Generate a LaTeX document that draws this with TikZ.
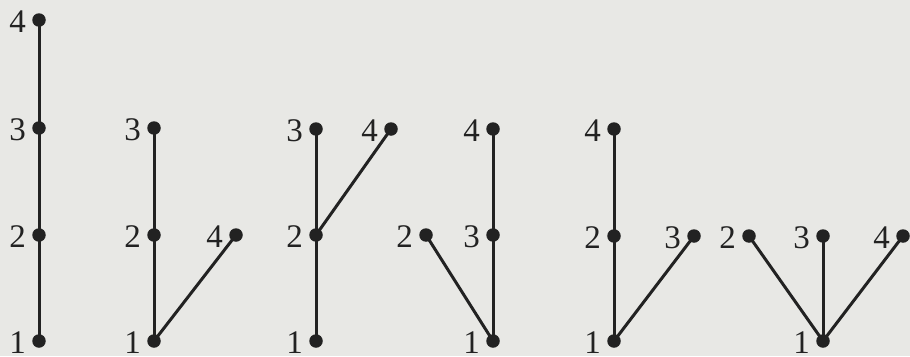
\documentclass[tikz,border=0pt]{standalone}
\usepackage{fontspec}
\setmainfont{Liberation Serif}
\definecolor{bgc}{RGB}{232,232,229}
\definecolor{ink}{RGB}{34,34,34}
\begin{document}
\begin{tikzpicture}[x=1pt,y=-1pt,
  vtx/.style={circle,fill=ink,inner sep=0pt,minimum size=13.5pt,
    label={[font=\fontsize{33}{36}\selectfont,text=ink,inner sep=0pt,label distance=6pt,yshift=-1.5pt]left:#1}},
  edge/.style={draw=ink,line width=3pt}]
\fill[bgc] (0,0) rectangle (910,356);
\useasboundingbox (0,0) rectangle (910,356);
% tree 1
\node[vtx=4] (a4) at (39,20) {};
\node[vtx=3] (a3) at (39,128) {};
\node[vtx=2] (a2) at (39,235) {};
\node[vtx=1] (a1) at (39,341) {};
\draw[edge] (a1.center) -- (a2.center) -- (a3.center) -- (a4.center);
% tree 2
\node[vtx=3] (b3) at (154,128) {};
\node[vtx=2] (b2) at (154,235) {};
\node[vtx=1] (b1) at (154,341) {};
\node[vtx=4] (b4) at (236,235) {};
\draw[edge] (b1.center) -- (b2.center) -- (b3.center);
\draw[edge] (b1.center) -- (b4.center);
% tree 3
\node[vtx=3] (c3) at (316,129) {};
\node[vtx=4] (c4) at (391,129) {};
\node[vtx=2] (c2) at (316,235) {};
\node[vtx=1] (c1) at (316,341) {};
\draw[edge] (c1.center) -- (c2.center) -- (c3.center);
\draw[edge] (c2.center) -- (c4.center);
% tree 4
\node[vtx=4] (d4) at (493,129) {};
\node[vtx=3] (d3) at (493,235) {};
\node[vtx=2] (d2) at (426,235) {};
\node[vtx=1] (d1) at (493,341) {};
\draw[edge] (d1.center) -- (d3.center) -- (d4.center);
\draw[edge] (d1.center) -- (d2.center);
% tree 5
\node[vtx=4] (e4) at (614,129) {};
\node[vtx=2] (e2) at (614,236) {};
\node[vtx=3] (e3) at (694,236) {};
\node[vtx=1] (e1) at (614,341) {};
\draw[edge] (e1.center) -- (e2.center) -- (e4.center);
\draw[edge] (e1.center) -- (e3.center);
% tree 6
\node[vtx=2] (f2) at (749,236) {};
\node[vtx=3] (f3) at (823,236) {};
\node[vtx=4] (f4) at (903,236) {};
\node[vtx=1] (f1) at (823,341) {};
\draw[edge] (f1.center) -- (f2.center);
\draw[edge] (f1.center) -- (f3.center);
\draw[edge] (f1.center) -- (f4.center);
\end{tikzpicture}
\end{document}
